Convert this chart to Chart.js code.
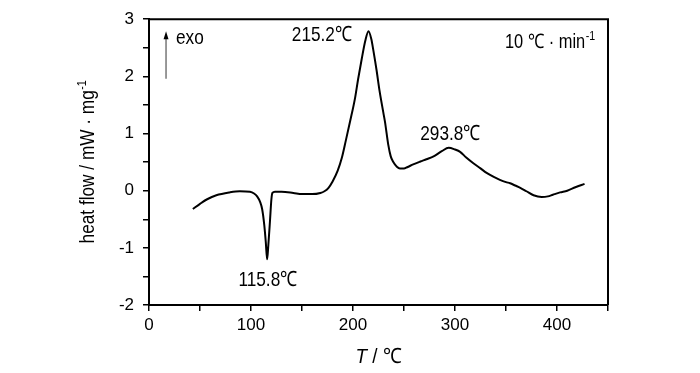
<!DOCTYPE html>
<html><head><meta charset="utf-8">
<script src="https://cdn.jsdelivr.net/npm/chart.js@4/dist/chart.umd.min.js"></script>
<style>html,body{margin:0;padding:0;background:#fff}#wrap{width:700px;height:373px}</style>
</head><body><div id="wrap"><canvas id="c" width="700" height="373"></canvas></div>
<script>
const temperature = [43,50,57,66,79,89,99,103,106,109,111,113,114.5,115.8,117,118.6,120,121,123.5,130,141.5,150,160,168,172,176,180,185,189,193,197,202,205,208.5,212,215.2,218,220,223,226,229.7,231.4,234.6,237,239.5,243,246,250,253,259,266,272,279,287,293.8,300,305,311,318,325,331,338,344,350,354,359,364,370,377,385,391,396,403,410,418,427];
const heatFlow = [-0.32,-0.23,-0.15,-0.08,-0.03,-0.01,-0.02,-0.05,-0.10,-0.2,-0.33,-0.6,-0.9,-1.2,-0.95,-0.53,-0.15,-0.04,-0.02,-0.02,-0.04,-0.06,-0.06,-0.04,-0.01,0.05,0.16,0.35,0.57,0.88,1.2,1.62,1.95,2.3,2.62,2.79,2.65,2.45,2.12,1.75,1.37,1.2,0.8,0.6,0.5,0.42,0.39,0.39,0.41,0.46,0.51,0.55,0.6,0.69,0.75,0.72,0.68,0.58,0.48,0.39,0.31,0.24,0.19,0.15,0.13,0.09,0.05,-0.01,-0.08,-0.11,-0.1,-0.07,-0.03,0.0,0.06,0.12];
const xTickLabels = [0,100,200,300,400];
const yTickLabels = [-2,-1,0,1,2,3];
const peakTexts = ['215.2℃','293.8℃','115.8℃'];
const rateText = ['10 ℃ · min','-1'];
const exoText = 'exo';
const yTitle = ['heat flow / mW · mg','-1'];
const xTitle = ['T',' / ℃'];

const FONT = '"Liberation Sans",Arial,sans-serif';
const SX = 0.82;
const points = temperature.map((t,i)=>({x:t,y:heatFlow[i]}));

function txt(ctx, s, x, y, size, align, italic, sx) {
  sx = sx || SX;
  ctx.save();
  ctx.font = (italic ? 'italic ' : '') + size + 'px ' + FONT;
  const w = ctx.measureText(s).width * sx;
  let left = x;
  if (align === 'center') left = x - w / 2; else if (align === 'right') left = x - w;
  ctx.translate(left, y);
  ctx.scale(sx, 1);
  ctx.textAlign = 'left';
  ctx.textBaseline = 'middle';
  ctx.fillText(s, 0, 0);
  ctx.restore();
  return w;
}
function width(ctx, s, size, italic, sx) {
  ctx.save();
  ctx.font = (italic ? 'italic ' : '') + size + 'px ' + FONT;
  const w = ctx.measureText(s).width * (sx || SX);
  ctx.restore();
  return w;
}

const deco = {
  id:'deco',
  afterDraw(chart){
    const ctx = chart.ctx, a = chart.chartArea, xs = chart.scales.x, ys = chart.scales.y;
    ctx.save();
    ctx.strokeStyle = '#000'; ctx.lineWidth = 2;
    ctx.beginPath();
    ctx.moveTo(a.left, a.top); ctx.lineTo(a.right, a.top); ctx.lineTo(a.right, a.bottom);
    ctx.stroke();
    ctx.fillStyle = '#000';
    // peak labels
    txt(ctx, peakTexts[0], xs.getPixelForValue(169.6), ys.getPixelForValue(2.72), 21, 'center');
    txt(ctx, peakTexts[1], xs.getPixelForValue(295.5), ys.getPixelForValue(0.99), 21, 'center');
    txt(ctx, peakTexts[2], xs.getPixelForValue(116.6), ys.getPixelForValue(-1.56), 21, 'center');
    // rate
    const rx = xs.getPixelForValue(349), ry = ys.getPixelForValue(2.6);
    const rw = txt(ctx, rateText[0], rx, ry, 20, 'left');
    txt(ctx, rateText[1], rx + rw + 0.5, ry - 6, 13, 'left');
    // exo
    txt(ctx, exoText, xs.getPixelForValue(26.5), ys.getPixelForValue(2.66), 21, 'left');
    const ax = xs.getPixelForValue(16.7), ay1 = ys.getPixelForValue(1.96), ay2 = ys.getPixelForValue(2.79);
    ctx.strokeStyle = '#777'; ctx.lineWidth = 1.5;
    ctx.beginPath(); ctx.moveTo(ax, ay1); ctx.lineTo(ax, ay2 + 6); ctx.stroke();
    ctx.fillStyle = '#000';
    ctx.beginPath(); ctx.moveTo(ax, ay2); ctx.lineTo(ax - 2.5, ay2 + 8); ctx.lineTo(ax + 2.5, ay2 + 8); ctx.closePath(); ctx.fill();
    // x title
    const w1 = width(ctx, xTitle[0], 21, true, 0.9);
    const w2 = width(ctx, xTitle[1], 21, false, 0.9);
    const cx = (a.left + a.right) / 2 - (w1 + w2) / 2;
    txt(ctx, xTitle[0], cx, 357, 21, 'left', true, 0.9);
    txt(ctx, xTitle[1], cx + w1, 357, 21, 'left', false, 0.9);
    // y title
    ctx.translate(88, (a.top + a.bottom) / 2);
    ctx.rotate(-Math.PI / 2);
    const t1 = width(ctx, yTitle[0], 21, false);
    const t2 = width(ctx, yTitle[1], 13, false);
    const sx = -(t1 + t2) / 2;
    txt(ctx, yTitle[0], sx, 0, 21, 'left');
    txt(ctx, yTitle[1], sx + t1 + 0.5, -6, 13, 'left');
    ctx.restore();
  }
};

new Chart(document.getElementById('c'), {
  type: 'scatter',
  data: { datasets: [{ data: points, showLine: true, borderColor: '#000', borderWidth: 2, pointRadius: 0, cubicInterpolationMode: 'monotone', fill: false }] },
  options: {
    responsive: false, animation: false, devicePixelRatio: 1,
    layout: { padding: { left: 0, top: 16, right: 92, bottom: 0 } },
    plugins: { legend: { display: false }, tooltip: { enabled: false } },
    scales: {
      x: {
        type: 'linear', min: 0, max: 450,
        afterFit: s => { s.height = 68; },
        afterBuildTicks: s => { s.ticks = []; for (let v = 0; v <= 450; v += 50) s.ticks.push({ value: v }); },
        ticks: { autoSkip: false, maxRotation: 0, color: '#000', padding: 4, font: { family: FONT, size: 17 },
          callback: v => xTickLabels.includes(v) ? String(v) : '' },
        grid: { drawOnChartArea: false, color: '#000', tickLength: 6, lineWidth: 1.5 },
        border: { color: '#000', width: 2 }
      },
      y: {
        min: -2, max: 3,
        afterFit: s => { s.width = 149; },
        afterBuildTicks: s => { s.ticks = []; for (let v = -2; v <= 3.001; v += 0.5) s.ticks.push({ value: Math.round(v * 2) / 2 }); },
        ticks: { autoSkip: false, color: '#000', padding: 9, font: { family: FONT, size: 17 },
          callback: v => yTickLabels.includes(v) ? String(v) : '' },
        grid: { drawOnChartArea: false, color: '#000', tickLength: 6, lineWidth: 1.5 },
        border: { color: '#000', width: 2 }
      }
    }
  },
  plugins: [deco]
});
</script>
</body></html>
